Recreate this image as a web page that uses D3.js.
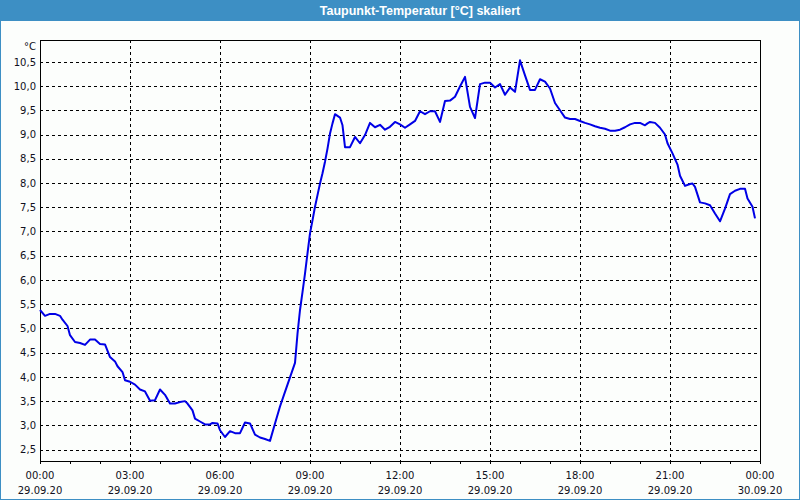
<!DOCTYPE html>
<html>
<head>
<meta charset="utf-8">
<script src="https://cdn.jsdelivr.net/npm/d3@7"></script>
<style>
  html, body { margin: 0; padding: 0; background: #fcfefc; }
  svg { display: block; }
  text { font-family: "DejaVu Sans", Verdana, sans-serif; }
</style>
</head>
<body>
<svg id="chart" width="800" height="500"></svg>
<script>
// ---- data ----
const title = "Taupunkt-Temperatur [°C] skaliert";
const unitLabel = "°C";
// minutes since 29.09.20 00:00
const minutes = [
  0,10,20,30,40,45,55,60,70,80,90,100,110,120,130,140,150,155,165,170,180,190,200,210,220,230,240,250,260,270,280,290,295,305,310,320,330,340,345,355,360,
  370,380,390,400,410,420,430,440,450,460,470,480,490,500,510,515,520,525,530,535,540,545,550,555,560,565,570,575,580,585,590,600,605,610,620,630,640,650,660,670,680,690,700,710,720,
  730,740,750,760,770,780,790,800,810,820,830,840,850,860,870,880,890,900,910,920,930,940,950,960,970,980,990,1000,1010,1020,1030,1040,1050,1060,1070,1080,
  1090,1100,1110,1120,1130,1140,1150,1160,1170,1180,1190,1200,1210,1215,1220,1230,1240,1250,1255,1265,1275,1280,1290,1300,1305,1310,1320,1330,1340,1350,1360,1370,1380,1390,1400,1410,1415,1425,1430
];
const dewpoint = [
  5.38,5.26,5.30,5.30,5.26,5.18,5.05,4.86,4.72,4.70,4.66,4.77,4.77,4.68,4.67,4.41,4.32,4.22,4.10,3.93,3.90,3.84,3.74,3.70,3.51,3.52,3.74,3.63,3.45,3.45,3.48,3.50,3.45,3.31,3.14,3.08,3.02,3.02,3.05,3.04,2.90,
  2.76,2.88,2.84,2.84,3.06,3.04,2.81,2.75,2.72,2.68,3.04,3.39,3.69,3.99,4.29,4.89,5.38,5.75,6.13,6.55,6.96,7.23,7.51,7.75,7.99,8.20,8.44,8.71,9.02,9.23,9.42,9.35,9.19,8.74,8.74,8.95,8.82,8.99,9.24,9.15,9.20,9.10,9.16,9.26,9.21,
  9.14,9.21,9.28,9.48,9.42,9.48,9.48,9.26,9.69,9.70,9.78,9.99,10.19,9.57,9.34,10.04,10.07,10.07,9.97,10.04,9.82,9.97,9.88,10.53,10.22,9.92,9.92,10.14,10.09,9.95,9.65,9.50,9.35,9.32,9.32,9.28,
  9.24,9.21,9.17,9.14,9.12,9.08,9.08,9.10,9.15,9.21,9.24,9.24,9.19,9.23,9.26,9.24,9.14,9.00,8.82,8.61,8.38,8.15,7.94,7.98,7.99,7.92,7.60,7.58,7.54,7.37,7.21,7.47,7.77,7.84,7.88,7.88,7.68,7.51,7.27
];
const yTicks = [2.5,3.0,3.5,4.0,4.5,5.0,5.5,6.0,6.5,7.0,7.5,8.0,8.5,9.0,9.5,10.0,10.5];
const yDomain = [2.265, 10.95];
const xStart = new Date(2020, 8, 29, 0, 0);
const xEnd = new Date(2020, 8, 30, 0, 0);

// ---- layout ----
const svg = d3.select("#chart");
const W = 800, H = 500;
const plot = { left: 40, right: 760, top: 40, bottom: 461 };

// background, title bar, window border
svg.append("rect").attr("x", 0).attr("y", 0).attr("width", W).attr("height", H).attr("fill", "#fcfefc");
svg.append("rect").attr("x", 0).attr("y", 0).attr("width", W).attr("height", 21).attr("fill", "#3d8fc4");
svg.append("rect").attr("x", 0.5).attr("y", 0.5).attr("width", W - 1).attr("height", H - 1)
  .attr("fill", "none").attr("stroke", "#3d8fc4").attr("stroke-width", 1);
svg.append("text").attr("x", 420).attr("y", 15).attr("text-anchor", "middle")
  .attr("fill", "#ffffff").attr("font-weight", "bold").attr("font-size", "12.5px")
  .style("font-family", "'Liberation Sans', Arial, sans-serif")
  .text(title);

const x = d3.scaleTime().domain([xStart, xEnd]).range([plot.left, plot.right]);
const y = d3.scaleLinear().domain(yDomain).range([plot.bottom, plot.top]);

const data = minutes.map((m, i) => ({ t: new Date(xStart.getTime() + m * 60000), v: dewpoint[i] }));

// horizontal grid
const g = svg.append("g");
g.selectAll("line.hgrid").data(yTicks).join("line")
  .attr("class", "hgrid")
  .attr("x1", plot.left).attr("x2", plot.right)
  .attr("y1", d => Math.round(y(d)) + 0.5).attr("y2", d => Math.round(y(d)) + 0.5)
  .attr("stroke", "#000").attr("stroke-dasharray", "3,3").attr("stroke-width", 1);

// vertical grid every 3h
const majorTicks = x.ticks(d3.timeHour.every(3));
g.selectAll("line.vgrid").data(majorTicks.filter(d => +d !== +xStart && +d !== +xEnd)).join("line")
  .attr("class", "vgrid")
  .attr("x1", d => Math.round(x(d)) + 0.5).attr("x2", d => Math.round(x(d)) + 0.5)
  .attr("y1", plot.top).attr("y2", plot.bottom)
  .attr("stroke", "#000").attr("stroke-dasharray", "3,3").attr("stroke-width", 1);

// x axis (hour ticks, no labels) + custom two-line labels
const xAxis = d3.axisBottom(x).ticks(d3.timeHour.every(1)).tickSize(3).tickFormat("");
const xa = svg.append("g").attr("transform", `translate(0,${plot.bottom})`).call(xAxis);
xa.select(".domain").remove();
xa.selectAll(".tick line").attr("stroke", "#000");

const fmtTime = d3.timeFormat("%H:%M");
const fmtDate = d3.timeFormat("%d.%m.%y");
const xl = svg.append("g");
xl.selectAll("text.t").data(majorTicks).join("text")
  .attr("class", "t").attr("x", d => x(d)).attr("y", 479)
  .attr("text-anchor", "middle").attr("font-size", "10px").attr("fill", "#101020")
  .text(d => fmtTime(d));
xl.selectAll("text.d").data(majorTicks).join("text")
  .attr("class", "d").attr("x", d => x(d)).attr("y", 494)
  .attr("text-anchor", "middle").attr("font-size", "10px").attr("fill", "#101020")
  .text(d => fmtDate(d));

// y axis labels
const yAxis = d3.axisLeft(y).tickValues(yTicks).tickSize(0).tickPadding(4)
  .tickFormat(d => d3.format(".1f")(d).replace(".", ","));
const ya = svg.append("g").attr("transform", `translate(${plot.left},0)`).call(yAxis);
ya.select(".domain").remove();
ya.selectAll(".tick text").attr("font-size", "10px").attr("fill", "#101020")
  .style("font-family", "'DejaVu Sans', Verdana, sans-serif");
svg.append("text").attr("x", 36).attr("y", 50).attr("text-anchor", "end")
  .attr("font-size", "10px").attr("fill", "#101020").text(unitLabel);

// plot frame
svg.append("rect").attr("x", plot.left + 0.5).attr("y", plot.top + 0.5)
  .attr("width", plot.right - plot.left).attr("height", plot.bottom - plot.top)
  .attr("fill", "none").attr("stroke", "#000").attr("stroke-width", 1);

// line
const line = d3.line().x(d => x(d.t)).y(d => y(d.v));
svg.append("path").datum(data)
  .attr("d", line).attr("fill", "none")
  .attr("stroke", "#0000e6").attr("stroke-width", 2).attr("stroke-linejoin", "round");
</script>
</body>
</html>
